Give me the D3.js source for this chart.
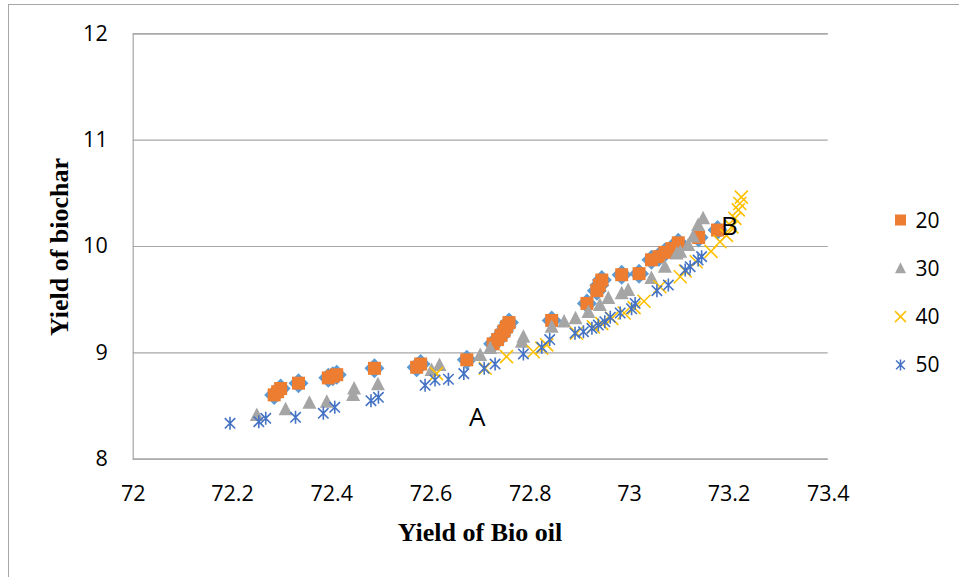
<!DOCTYPE html>
<html>
<head>
<meta charset="utf-8">
<script src="https://cdn.jsdelivr.net/npm/d3@7.9.0/dist/d3.min.js"></script>
<style>
  body { margin: 0; background: #fff; }
  svg { display: block; }
  .tick text { font-family: "Open Sans", sans-serif; font-size: 21.5px; fill: #000; }
</style>
</head>
<body>
<svg id="chart" width="959" height="577"></svg>
<script>
// x = yield of bio oil, y = yield of biochar
const series20 = [
  [72.285, 8.60], [72.292, 8.63], [72.298, 8.66], [72.334, 8.71], [72.394, 8.76],
  [72.403, 8.775], [72.411, 8.79], [72.487, 8.85], [72.572, 8.86], [72.58, 8.89],
  [72.673, 8.93], [72.726, 9.08], [72.735, 9.12], [72.742, 9.16], [72.748, 9.20],
  [72.753, 9.24], [72.758, 9.28], [72.844, 9.30], [72.915, 9.46], [72.935, 9.58],
  [72.94, 9.63], [72.945, 9.68], [72.985, 9.73], [73.02, 9.74], [73.045, 9.87],
  [73.06, 9.90], [73.072, 9.94], [73.086, 9.975], [73.099, 10.03], [73.14, 10.08],
  [73.178, 10.15]
];
const series30 = [
  [72.25, 8.41], [72.308, 8.465], [72.356, 8.527], [72.391, 8.536], [72.444, 8.60],
  [72.446, 8.66], [72.494, 8.70], [72.602, 8.834], [72.618, 8.88], [72.70, 8.975],
  [72.72, 9.04], [72.784, 9.10], [72.787, 9.147], [72.844, 9.24], [72.869, 9.29],
  [72.892, 9.32], [72.918, 9.38], [72.941, 9.445], [72.958, 9.51], [72.985, 9.555],
  [72.998, 9.586], [73.045, 9.70], [73.072, 9.805], [73.096, 9.93], [73.103, 9.946],
  [73.119, 10.01], [73.129, 10.09], [73.139, 10.197], [73.149, 10.26]
];
const series40 = [
  [72.612, 8.80], [72.71, 8.85], [72.753, 8.96], [72.807, 9.006], [72.824, 9.04],
  [72.834, 9.07], [72.894, 9.18], [72.928, 9.24], [72.945, 9.27], [72.965, 9.32],
  [72.99, 9.37], [73.01, 9.42], [73.03, 9.48], [73.062, 9.617], [73.103, 9.711],
  [73.113, 9.765], [73.135, 9.852], [73.165, 9.95], [73.183, 10.04], [73.196, 10.10],
  [73.207, 10.18], [73.213, 10.26], [73.22, 10.34], [73.223, 10.40], [73.226, 10.46]
];
const series50 = [
  [72.196, 8.333], [72.254, 8.348], [72.268, 8.38], [72.328, 8.389], [72.384, 8.427],
  [72.407, 8.483], [72.48, 8.545], [72.495, 8.577], [72.589, 8.69], [72.609, 8.74],
  [72.636, 8.747], [72.667, 8.80], [72.708, 8.85], [72.73, 8.89], [72.787, 8.985],
  [72.824, 9.047], [72.84, 9.12], [72.891, 9.18], [72.908, 9.194], [72.925, 9.226],
  [72.938, 9.257], [72.951, 9.288], [72.962, 9.33], [72.982, 9.37], [73.005, 9.41],
  [73.012, 9.46], [73.056, 9.58], [73.079, 9.633], [73.113, 9.774], [73.123, 9.805],
  [73.139, 9.868], [73.146, 9.90]
];
const legendLabels = ['20', '30', '40', '50'];
const xTicks = [72, 72.2, 72.4, 72.6, 72.8, 73, 73.2, 73.4];
const yTicks = [8, 9, 10, 11, 12];
const notes = [{ text: 'A', x: 72.694, y: 8.395 }, { text: 'B', x: 73.202, y: 10.195 }];

const svg = d3.select('#chart');

// outer chart frame (only left and top edges show)
svg.append('rect')
  .attr('x', 8.5).attr('y', 4.5)
  .attr('width', 1000).attr('height', 600)
  .attr('fill', 'none').attr('stroke', '#a6a6a6');

const x = d3.scaleLinear().domain([72, 73.4]).range([132.7, 827.7]);
const y = d3.scaleLinear().domain([8, 12]).range([458.7, 33.3]);

// gridlines + y labels
const yAxis = svg.append('g')
  .attr('transform', `translate(${x(72)},0)`)
  .call(d3.axisLeft(y).tickValues(yTicks).tickFormat(d3.format('d'))
    .tickSize(-(x(73.4) - x(72))).tickPadding(25));
yAxis.select('.domain').attr('stroke', '#a6a6a6').attr('stroke-width', 1.2);
yAxis.selectAll('.tick line').attr('stroke', '#a6a6a6').attr('stroke-width', 1.2);

// x labels
const xAxis = svg.append('g')
  .attr('transform', `translate(0,${y(8)})`)
  .call(d3.axisBottom(x).tickValues(xTicks).tickFormat(d => String(+d.toFixed(1)))
    .tickSize(0).tickPadding(27));
xAxis.select('.domain').remove();

// marker shapes
const diamond = 'M0,-10L10,0L0,10L-10,0Z';
const square = 'M-6.5,-6.5H6.5V6.5H-6.5Z';
const tri = 'M0,-7.5L7,6H-7Z';
const cross = r => `M${-r},${-r}L${r},${r}M${-r},${r}L${r},${-r}`;
const star = r => `M0,${-r}V${r}M${-r * 0.8},${-r * 0.8}L${r * 0.8},${r * 0.8}M${-r * 0.8},${r * 0.8}L${r * 0.8},${-r * 0.8}`;

function drawSeries(data, path, fill, stroke, width) {
  svg.append('g').selectAll('path')
    .data(data)
    .join('path')
    .attr('transform', d => `translate(${x(d[0])},${y(d[1])})`)
    .attr('d', path)
    .attr('fill', fill)
    .attr('stroke', stroke)
    .attr('stroke-width', width || 0);
}

drawSeries(series20, diamond, '#5b9bd5', 'none');
drawSeries(series20, square, '#ed7d31', 'none');
drawSeries(series30, tri, '#a5a5a5', 'none');
drawSeries(series40, cross(6.5), 'none', '#ffc000', 1.6);
drawSeries(series50, star(6.5), 'none', '#4472c4', 1.6);

// annotations
svg.selectAll('.note')
  .data(notes)
  .join('text')
  .attr('x', d => x(d.x)).attr('y', d => y(d.y))
  .attr('text-anchor', 'middle')
  .attr('dy', '0.36em')
  .style('font-family', '"Open Sans", sans-serif')
  .style('font-size', '26px')
  .text(d => d.text);

// axis titles
svg.append('text')
  .attr('x', 480).attr('y', 541)
  .attr('text-anchor', 'middle')
  .style('font-family', '"Liberation Serif", "Times New Roman", serif')
  .style('font-weight', 'bold').style('font-size', '26px')
  .text('Yield of Bio oil');
svg.append('text')
  .attr('transform', 'translate(68,247) rotate(-90)')
  .attr('text-anchor', 'middle')
  .style('font-family', '"Liberation Serif", "Times New Roman", serif')
  .style('font-weight', 'bold').style('font-size', '26px')
  .text('Yield of biochar');

// legend
const legendMarks = [
  { path: 'M-5.5,-5.5H5.5V5.5H-5.5Z', fill: '#ed7d31', stroke: 'none' },
  { path: 'M0,-6L5.5,5H-5.5Z', fill: '#a5a5a5', stroke: 'none' },
  { path: cross(5.5), fill: 'none', stroke: '#ffc000' },
  { path: star(5.5), fill: 'none', stroke: '#4472c4' }
];
const legend = svg.append('g').attr('transform', 'translate(900.5,220)');
legendLabels.forEach((lab, i) => {
  const row = legend.append('g').attr('transform', `translate(0,${i * 48.3})`);
  row.append('path')
    .attr('d', legendMarks[i].path)
    .attr('fill', legendMarks[i].fill)
    .attr('stroke', legendMarks[i].stroke)
    .attr('stroke-width', 1.5);
  row.append('text')
    .attr('x', 15).attr('dy', '0.36em')
    .style('font-family', '"Open Sans", sans-serif')
    .style('font-size', '21px')
    .text(lab);
});
</script>
</body>
</html>
